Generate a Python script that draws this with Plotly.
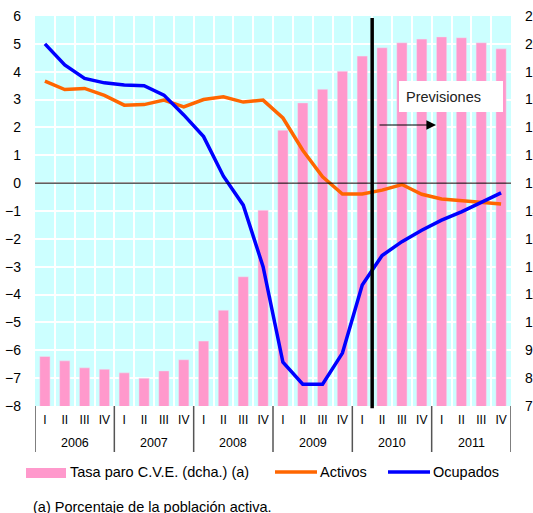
import plotly.graph_objects as go

years = ["2006", "2007", "2008", "2009", "2010", "2011"]
quarters = ["I", "II", "III", "IV"]

tasa_paro = [8.78, 8.62, 8.37, 8.32, 8.19, 8.00, 8.26, 8.66, 9.33, 10.44, 11.64, 14.03,
             16.90, 17.88, 18.37, 19.02, 19.56, 19.86, 20.04, 20.17, 20.25, 20.22, 20.04, 19.82]
activos = [3.66, 3.36, 3.40, 3.15, 2.80, 2.82, 2.98, 2.74, 3.00, 3.10, 2.91, 2.98,
           2.34, 1.18, 0.23, -0.39, -0.39, -0.25, -0.05, -0.40, -0.57, -0.63, -0.69, -0.75]
ocupados = [5.00, 4.24, 3.76, 3.60, 3.52, 3.50, 3.16, 2.45, 1.67, 0.25, -0.79, -3.00,
            -6.43, -7.22, -7.22, -6.10, -3.66, -2.60, -2.10, -1.69, -1.33, -1.03, -0.69, -0.35]

name_tasa = "Tasa paro C.V.E. (dcha.) (a)"
name_act = "Activos"
name_ocu = "Ocupados"
footnote = "(a) Porcentaje de la población activa."
forecast_label = "Previsiones"
forecast_start = 17  # index of first forecast quarter (2010 II)

cats = [f"{y} {q}" for y in years for q in quarters]
qlabels = [q for _ in years for q in quarters]
nq = len(quarters)
n = len(cats)

FONT = "Liberation Sans, Arial, sans-serif"
PINK = "#FF99CC"
ORANGE = "#FF6600"
BLUE = "#0000FF"
TXT = 14.5

fig = go.Figure()
fig.add_trace(go.Bar(x=cats, y=tasa_paro, name=name_tasa, marker_color=PINK,
                     width=0.52, yaxis="y", showlegend=False))
fig.add_trace(go.Scatter(x=cats, y=activos, name=name_act, mode="lines",
                         line=dict(color=ORANGE, width=3.5), yaxis="y2", showlegend=False))
fig.add_trace(go.Scatter(x=cats, y=ocupados, name=name_ocu, mode="lines",
                         line=dict(color=BLUE, width=3.5), yaxis="y2", showlegend=False))

L, R, T, B = 35, 22, 16, 107
W, H = 533, 513
pw = W - L - R
ph = H - T - B

def px(v):
    return (v - L) / pw

def py(v):
    return (H - B - v) / ph

shapes = [
    dict(type="line", xref="x domain", x0=0, x1=1, yref="y2", y0=0, y1=0,
         line=dict(color="black", width=1), layer="above"),
    dict(type="line", xref="x domain", x0=forecast_start / n, x1=forecast_start / n,
         yref="paper", y0=-0.006, y1=py(18), line=dict(color="black", width=3.5), layer="above"),
    dict(type="rect", xref="x domain", x0=px(399), x1=px(503), yref="paper", y0=py(112), y1=py(81),
         fillcolor="white", line=dict(width=0), layer="above"),
    dict(type="rect", xref="paper", yref="paper", x0=px(26), x1=px(66), y0=py(478), y1=py(468),
         fillcolor=PINK, line=dict(width=0)),
    dict(type="line", xref="paper", yref="paper", x0=px(275), x1=px(317), y0=py(472), y1=py(472),
         line=dict(color=ORANGE, width=3.5)),
    dict(type="line", xref="paper", yref="paper", x0=px(388), x1=px(430), y0=py(472), y1=py(472),
         line=dict(color=BLUE, width=3.5)),
]
for k in range(len(years) + 1):
    shapes.append(dict(type="line", xref="x", x0=k * nq - 0.5, x1=k * nq - 0.5,
                       yref="paper", y0=0, y1=py(452), line=dict(color="#555", width=1.5)))

annotations = [
    dict(text=forecast_label, xref="x domain", x=px(404), yref="y domain", y=py(96.5),
         xanchor="left", yanchor="middle", showarrow=False, font=dict(size=TXT, color="#222")),
    dict(text="", xref="x domain", x=px(436), yref="y domain", y=py(125),
         axref="x domain", ax=px(378), ayref="y domain", ay=py(125),
         showarrow=True, arrowhead=2, arrowsize=1.6, arrowwidth=1.2, arrowcolor="black", standoff=0),
    dict(text=name_tasa, xref="paper", yref="paper", x=px(68), y=py(472),
         xanchor="left", yanchor="middle", showarrow=False, font=dict(size=TXT, color="black")),
    dict(text=name_act, xref="paper", yref="paper", x=px(318), y=py(472),
         xanchor="left", yanchor="middle", showarrow=False, font=dict(size=TXT, color="black")),
    dict(text=name_ocu, xref="paper", yref="paper", x=px(431), y=py(472),
         xanchor="left", yanchor="middle", showarrow=False, font=dict(size=TXT, color="black")),
    dict(text=footnote, xref="paper", yref="paper", x=px(31), y=py(507),
         xanchor="left", yanchor="middle", showarrow=False, font=dict(size=TXT, color="black")),
]
for k, yr in enumerate(years):
    annotations.append(dict(text=yr, xref="x", x=k * nq + (nq - 1) / 2, yref="paper", y=py(442.5),
                            xanchor="center", yanchor="middle", showarrow=False,
                            font=dict(size=12.5, color="black")))

fig.update_layout(
    width=W, height=H,
    margin=dict(l=L, r=R, t=T, b=B, autoexpand=False),
    paper_bgcolor="white", plot_bgcolor="#CCFFFF",
    font=dict(family=FONT, size=13, color="black"),
    xaxis=dict(type="category", categoryorder="array", categoryarray=cats,
               tickmode="array", tickvals=cats, ticktext=qlabels,
               tickson="boundaries", showgrid=True, gridcolor="white", gridwidth=2,
               ticks="", tickfont=dict(size=12), ticklabelstandoff=5,
               showline=False, zeroline=False, automargin=False, range=[-0.5, n - 0.5]),
    yaxis=dict(side="right", range=[7, 21], dtick=1, showgrid=True, gridcolor="white", gridwidth=2,
               zeroline=False, showline=False, ticks="", tickfont=dict(size=14),
               ticklabelstandoff=13, automargin=False),
    yaxis2=dict(overlaying="y", side="left", range=[-8, 6], dtick=1, showgrid=False,
                zeroline=False, showline=False, ticks="", tickfont=dict(size=14),
                ticklabelstandoff=13, automargin=False),
    shapes=shapes,
    annotations=annotations,
)

fig.write_html("out.html", config={"displayModeBar": False},
               post_script="document.body.style.margin='0';")
